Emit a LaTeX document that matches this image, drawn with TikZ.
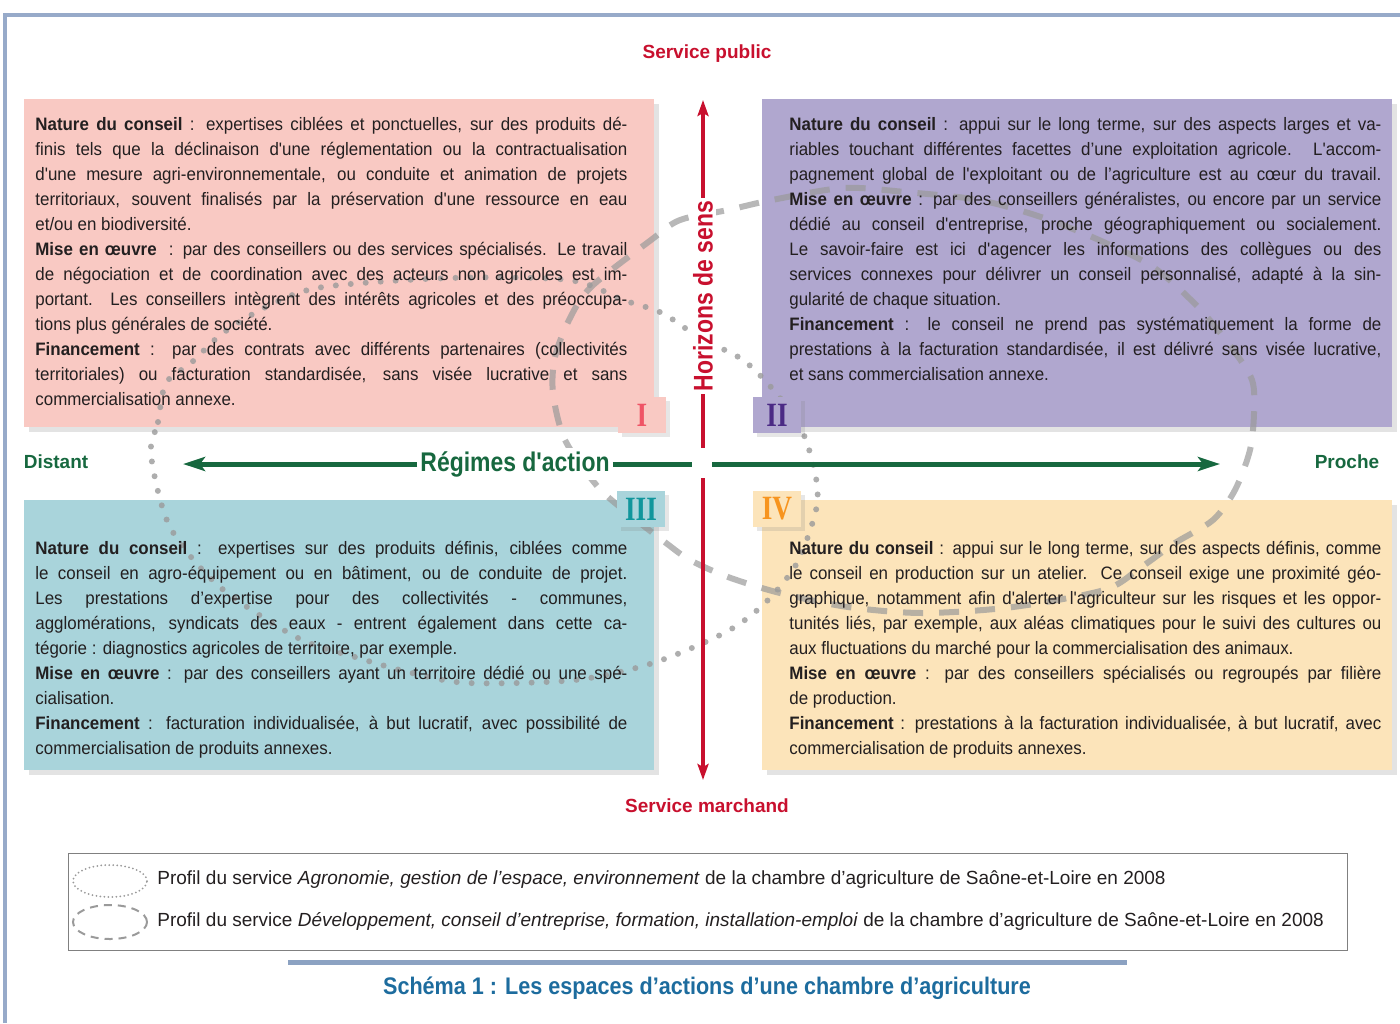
\documentclass[tikz,border=0pt]{standalone}
\usepackage{fontspec}
\setmainfont{Liberation Sans}
\newfontfamily\bodyfont[FakeStretch=0.94]{Liberation Sans}
\newfontfamily\axisfont[FakeStretch=0.85]{Liberation Sans}
\newfontfamily\captionfont[FakeStretch=0.9]{Liberation Sans}
\newfontfamily\romanfont[FakeStretch=0.8]{Liberation Serif}
\usetikzlibrary{arrows.meta,shadows,shapes.geometric}

\definecolor{framegray}{HTML}{97AAC9}
\definecolor{pinkbox}{HTML}{F9C9C3}
\definecolor{lilacbox}{HTML}{B0A7CF}
\definecolor{tealbox}{HTML}{A9D4DB}
\definecolor{sandbox}{HTML}{FCE4BA}
\definecolor{numI}{HTML}{EF5466}
\definecolor{numII}{HTML}{4B2A85}
\definecolor{numIII}{HTML}{11969C}
\definecolor{numIV}{HTML}{F7941E}
\definecolor{axisred}{HTML}{C8102E}
\definecolor{axisgreen}{HTML}{17683F}
\definecolor{ink}{HTML}{231F20}
\definecolor{curvegray}{HTML}{9A9A9A}
\definecolor{legendgray}{HTML}{808080}
\definecolor{captionblue}{HTML}{1D6C9E}
\definecolor{barblue}{HTML}{8CA2C2}

\setlength\parindent{0pt}
\setlength\parskip{0pt}
\hbadness=10000

\begin{document}
\begin{tikzpicture}[x=0.5pt, y=-0.5pt]
  \useasboundingbox (0,0) rectangle (1400,1023);
  \tikzstyle{quad}=[anchor=north west, inner sep=0pt, drop shadow={shadow xshift=2.5pt, shadow yshift=-2.5pt, opacity=0.22}]
  \tikzstyle{txt}=[anchor=north west, inner sep=0pt, text width=296pt, align=justify, text=ink, font=\bodyfont\fontsize{9}{12.5}\selectfont]
  \tikzstyle{num}=[minimum width=24pt, minimum height=18pt, inner sep=0pt, font=\romanfont\bfseries\fontsize{17}{17}\selectfont, drop shadow={shadow xshift=2pt, shadow yshift=-2pt, opacity=0.2}]
  \tikzstyle{pole}=[inner sep=1pt, font=\bfseries\fontsize{9.5}{11}\selectfont]
  \tikzstyle{axis}=[fill=white, inner sep=1.5pt, font=\axisfont\bfseries\fontsize{13.5}{15}\selectfont]
  \tikzstyle{redaxis}=[draw=axisred, line width=2pt]
  \tikzstyle{greenaxis}=[draw=axisgreen, line width=2.5pt]
  \tikzstyle{dots}=[draw=curvegray, line width=3pt, line cap=round, dash pattern=on 0pt off 7.5pt, opacity=0.8]
  \tikzstyle{dashes}=[draw=curvegray, line width=3pt, dash pattern=on 10pt off 8pt, opacity=0.7]
  \tikzstyle{keytext}=[anchor=west, inner sep=0pt, text=ink, font=\fontsize{9.5}{11}\selectfont]

  % cadre
  \coordinate (frameB) at (5,1023);
  \coordinate (frameC) at (5,15);
  \coordinate (frameR) at (1400,15);
  \draw[framegray, line width=2pt] (frameB) -- (frameC) -- (frameR);

  % les quatre espaces
  \node[quad, fill=pinkbox,  minimum width=315pt, minimum height=164pt] (boxI)   at (24,99)  {};
  \node[quad, fill=lilacbox, minimum width=315pt, minimum height=164pt] (boxII)  at (762,99) {};
  \node[quad, fill=tealbox,  minimum width=315pt, minimum height=135pt] (boxIII) at (24,500) {};
  \node[quad, fill=sandbox,  minimum width=315pt, minimum height=135pt] (boxIV)  at (762,500) {};

  % profils des services
  \draw[dots] plot[smooth cycle] coordinates {(151,455) (158,422) (166,383) (191,363) (223,333) (270,305) (323,287) (450,278) (569,280) (623,300) (662,313) (700,338) (743,360) (776,393) (803,433) (816,478) (816,510) (797,563) (765,603) (726,632) (653,663) (575,680) (469,683) (412,673) (355,657) (298,638) (220,587) (170,527)};
  \draw[dashes] plot[smooth cycle] coordinates {(553,393) (555,357) (569,320) (591,287) (651,240) (680,220) (728,210) (772,200) (843,188) (905,192) (979,200) (1041,217) (1099,240) (1153,267) (1198,307) (1231,347) (1252,380) (1254,413) (1250,450) (1235,490) (1213,520) (1175,543) (1140,568) (1104,590) (1013,607) (923,613) (848,607) (780,593) (728,577) (690,560) (666,543) (630,515) (598,487) (565,440)};

  \node[txt] (txtI) at (35,117) {\textbf{Nature du conseil} : expertises ciblées et ponctuelles, sur des produits dé-\linebreak
    finis tels que la déclinaison d'une réglementation ou la contractualisation\linebreak
    d'une mesure agri-environnementale, ou conduite et animation de projets\linebreak
    territoriaux, souvent finalisés par la préservation d'une ressource en eau\linebreak
    et/ou en biodiversité.\par
    \textbf{Mise en œuvre}~~: par des conseillers ou des services spécialisés. Le travail\linebreak
    de négociation et de coordination avec des acteurs non agricoles est im-\linebreak
    portant. Les conseillers intègrent des intérêts agricoles et des préoccupa-\linebreak
    tions plus générales de société.\par
    \textbf{Financement} : par des contrats avec différents partenaires (collectivités\linebreak
    territoriales) ou facturation standardisée, sans visée lucrative et sans\linebreak
    commercialisation annexe.};

  \node[txt] (txtII) at (789,117) {\textbf{Nature du conseil} : appui sur le long terme, sur des aspects larges et va-\linebreak
    riables touchant différentes facettes d’une exploitation agricole. L'accom-\linebreak
    pagnement global de l'exploitant ou de l’agriculture est au cœur du travail.\linebreak
    \textbf{Mise en œuvre} : par des conseillers généralistes, ou encore par un service\linebreak
    dédié au conseil d'entreprise, proche géographiquement ou socialement.\linebreak
    Le savoir-faire est ici d'agencer les informations des collègues ou des\linebreak
    services connexes pour délivrer un conseil personnalisé, adapté à la sin-\linebreak
    gularité de chaque situation.\par
    \textbf{Financement} : le conseil ne prend pas systématiquement la forme de\linebreak
    prestations à la facturation standardisée, il est délivré sans visée lucrative,\linebreak
    et sans commercialisation annexe.};

  \node[txt] (txtIII) at (35,541) {\textbf{Nature du conseil} : expertises sur des produits définis, ciblées comme\linebreak
    le conseil en agro-équipement ou en bâtiment, ou de conduite de projet.\linebreak
    Les prestations d’expertise pour des collectivités - communes,\linebreak
    agglomérations, syndicats des eaux - entrent également dans cette ca-\linebreak
    tégorie : diagnostics agricoles de territoire, par exemple.\par
    \textbf{Mise en œuvre} : par des conseillers ayant un territoire dédié ou une spé-\linebreak
    cialisation.\par
    \textbf{Financement} : facturation individualisée, à but lucratif, avec possibilité de\linebreak
    commercialisation de produits annexes.};

  \node[txt] (txtIV) at (789,541) {\textbf{Nature du conseil} : appui sur le long terme, sur des aspects définis, comme\linebreak
    le conseil en production sur un atelier. Ce conseil exige une proximité géo-\linebreak
    graphique, notamment afin d'alerter l'agriculteur sur les risques et les oppor-\linebreak
    tunités liés, par exemple, aux aléas climatiques pour le suivi des cultures ou\linebreak
    aux fluctuations du marché pour la commercialisation des animaux.\par
    \textbf{Mise en œuvre} : par des conseillers spécialisés ou regroupés par filière\linebreak
    de production.\par
    \textbf{Financement} : prestations à la facturation individualisée, à but lucratif, avec\linebreak
    commercialisation de produits annexes.};

  \node[num, fill=pinkbox,  text=numI]   (nI)   at (642,415) {I};
  \node[num, fill=lilacbox, text=numII]  (nII)  at (777,415) {II};
  \node[num, fill=tealbox,  text=numIII] (nIII) at (641,509) {III};
  \node[num, fill=sandbox,  text=numIV]  (nIV)  at (777,509) {IV};

  % axes
  \coordinate (vtop) at (703,100);
  \coordinate (vup) at (703,448);
  \coordinate (vdown) at (703,478);
  \coordinate (vbottom) at (703,780);
  \node[axis, text=axisred, rotate=90] (hzn) at (703,296) {Horizons de sens};
  \draw[redaxis, -{Stealth[length=8pt, width=5.5pt, inset=1.5pt]}] (hzn.east) -- (vtop);
  \draw[redaxis] (hzn.west) -- (vup);
  \draw[redaxis, -{Stealth[length=8pt, width=5.5pt, inset=1.5pt]}] (vdown) -- (vbottom);

  \coordinate (hleft) at (183,464);
  \coordinate (hmidL) at (692,464);
  \coordinate (hmidR) at (712,464);
  \coordinate (hright) at (1220,464);
  \node[axis, text=axisgreen] (reg) at (515,464) {Régimes d'action};
  \draw[greenaxis, -{Stealth[length=11pt, width=7pt, inset=2.5pt]}] (reg.west) -- (hleft);
  \draw[greenaxis] (reg.east) -- (hmidL);
  \draw[greenaxis, -{Stealth[length=11pt, width=7pt, inset=2.5pt]}] (hmidR) -- (hright);

  \node[pole, text=axisred]   (public)   at (707,54)  {Service public};
  \node[pole, text=axisred]   (marchand) at (707,806) {Service marchand};
  \node[pole, text=axisgreen] (distant)  at (56,462)  {Distant};
  \node[pole, text=axisgreen] (proche)   at (1347,462) {Proche};

  % légende
  \node[draw=legendgray, line width=0.5pt, anchor=north west, inner sep=0pt, minimum width=639.5pt, minimum height=48.5pt] (legend) at (68,853) {};
  \node[ellipse, draw=curvegray, line width=1pt, line cap=round, dash pattern=on 0pt off 2pt, minimum width=37pt, minimum height=16pt, inner sep=0pt] (keyA) at (110,881) {};
  \node[ellipse, draw=curvegray, line width=1pt, dash pattern=on 4pt off 3pt, minimum width=37pt, minimum height=17pt, inner sep=0pt] (keyB) at (110,922) {};
  \node[keytext] (keyAtxt) at (157,880) {Profil du service \textit{Agronomie, gestion de l’espace, environnement} de la chambre d'agriculture de Saône-et-Loire en 2008};
  \node[keytext] (keyBtxt) at (157,921) {Profil du service \textit{Développement, conseil d’entreprise, formation, installation-emploi} de la chambre d'agriculture de Saône-et-Loire en 2008};

  % titre
  \coordinate (barL) at (288,962);
  \coordinate (barR) at (1127,962);
  \draw[barblue, line width=2.5pt] (barL) -- (barR);
  \node[text=captionblue, font=\captionfont\bfseries\fontsize{12}{14}\selectfont] (caption) at (707,988) {Schéma 1 : Les espaces d’actions d’une chambre d’agriculture};
\end{tikzpicture}
\end{document}
